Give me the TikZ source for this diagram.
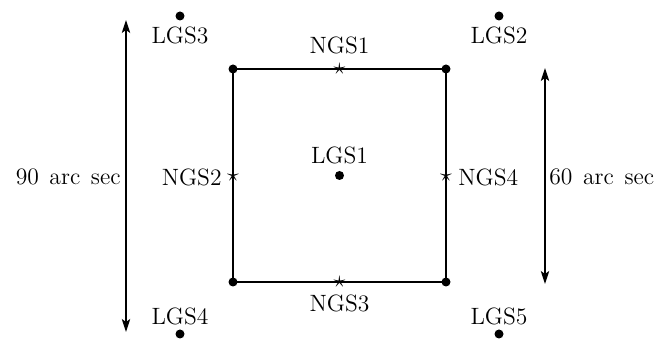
\documentclass[tikz,border=0pt]{standalone}
\usetikzlibrary{arrows.meta}
\begin{document}
\begin{tikzpicture}[x=0.5pt,y=-0.5pt,
  dot/.style={circle,fill=black,inner sep=0pt,minimum size=4.5pt},
  starpt/.style={inner sep=0pt,font=\fontsize{11.5}{11.5}\selectfont},
  lab/.style={inner sep=0pt,font=\fontsize{11.8}{14}\selectfont},
  dim/.style={line width=0.6pt,{Stealth[length=6.5pt,width=4.2pt,inset=1.5pt]}-{Stealth[length=6.5pt,width=4.2pt,inset=1.5pt]}},
  box/.style={line width=0.6pt}]
\useasboundingbox (0,0) rectangle (660,341);
% corners
\node[dot] (c1) at (233,69) {};
\node[dot] (c2) at (446,69) {};
\node[dot] (c3) at (446,282) {};
\node[dot] (c4) at (233,282) {};
\draw[box] (c1.center) -- (c2.center) -- (c3.center) -- (c4.center) -- cycle;
% stars
\node[starpt] (s1) at (339.5,69) {$\star$};
\node[starpt] (s2) at (233,175.5) {$\star$};
\node[starpt] (s4) at (446,175.5) {$\star$};
\node[starpt] (s3) at (339.5,282) {$\star$};
% LGS dots
\node[dot] (l1) at (339.5,175.5) {};
\node[dot] (l2) at (499,16) {};
\node[dot] (l3) at (180,16) {};
\node[dot] (l4) at (180,334) {};
\node[dot] (l5) at (499,334) {};
% labels
\node[lab] at (180,35) {LGS3};
\node[lab] at (499,35) {LGS2};
\node[lab] at (180,316) {LGS4};
\node[lab] at (499,316) {LGS5};
\node[lab] at (339.5,155) {LGS1};
\node[lab] at (339.5,45) {NGS1};
\node[lab] at (339.5,303) {NGS3};
\node[lab,anchor=east] at (222,177) {NGS2};
\node[lab,anchor=west] at (458,177) {NGS4};
\node[lab,anchor=east] at (121,177) {90\hspace{0.45em}arc\hspace{0.45em}sec};
\node[lab,anchor=west] at (549,177) {60\hspace{0.45em}arc\hspace{0.45em}sec};
% dimension arrows
\coordinate (a1) at (126,20);
\coordinate (a2) at (126,332);
\coordinate (b1) at (545,68);
\coordinate (b2) at (545,284);
\draw[dim] (a1) -- (a2);
\draw[dim] (b1) -- (b2);
\end{tikzpicture}
\end{document}
